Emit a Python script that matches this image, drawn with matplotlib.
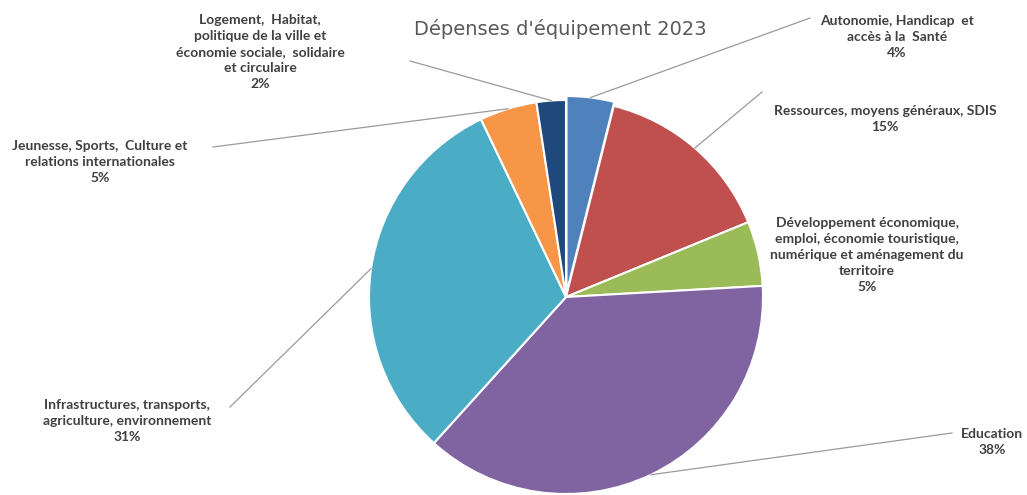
import numpy as np
import matplotlib
matplotlib.use("Agg")
import matplotlib.pyplot as plt

# Dépenses d'équipement 2023 -- parts par politique (en %)
categories = [
    "Autonomie, Handicap  et\naccès à la  Santé",
    "Ressources, moyens généraux, SDIS",
    "Développement économique,\nemploi, économie touristique,\nnumérique et aménagement du\nterritoire",
    "Education",
    "Infrastructures, transports,\nagriculture, environnement",
    "Jeunesse, Sports,  Culture et\nrelations internationales",
    "Logement,  Habitat,\npolitique de la ville et\néconomie sociale,  solidaire\net circulaire",
]
shares = [3.9, 14.9, 5.3, 37.6, 31.2, 4.7, 2.4]
colors = ["#4F81BD", "#C0504D", "#9BBB59", "#8064A2", "#4BACC6", "#F79646", "#1F497D"]

# label placement (pixel coords, y from top) and leader-line start (None = no line)
label_pos = [(897, 37), (885, 119), (867, 255), (992, 442), (127, 421), (100, 162), (260, 52)]
leader_start = [(810, 18), (762, 92), None, (952, 433), (230, 407), (213, 147), (410, 61)]

W, H = 1027, 495
fig = plt.figure(figsize=(W / 100, H / 100), dpi=100)
ax = fig.add_axes([0, 0, 1, 1])

cx, cy, r = 566, H - 297, 197
explode = [4, 0, 0, 0, 0, 0, 0]
wedges, _ = ax.pie(shares, colors=colors, startangle=90, counterclock=False,
                   center=(cx, cy), radius=r, explode=explode,
                   wedgeprops=dict(edgecolor="white", linewidth=1.5), frame=True)
ax.set_xlim(0, W); ax.set_ylim(0, H)
ax.set_aspect("equal"); ax.axis("off")

txt = "#404040"
for w, lab, v, pos, st in zip(wedges, categories, shares, label_pos, leader_start):
    ax.text(pos[0], H - pos[1], f"{lab}\n{round(v)}%", ha="center", va="center",
            fontsize=10, color=txt, family="Lato", weight="bold", linespacing=1.38)
    if st is None:
        continue
    mid = np.deg2rad((w.theta1 + w.theta2) / 2)
    ex, ey = w.center[0] + w.r * np.cos(mid), w.center[1] + w.r * np.sin(mid)
    ax.plot([st[0], ex], [H - st[1], ey], color="#9a9a9a", lw=0.9)

ax.text(560, H - 29, "Dépenses d'équipement 2023", ha="center", va="center",
        fontsize=14, color="#595959", family="DejaVu Sans")

fig.savefig("out.png", dpi=100)
